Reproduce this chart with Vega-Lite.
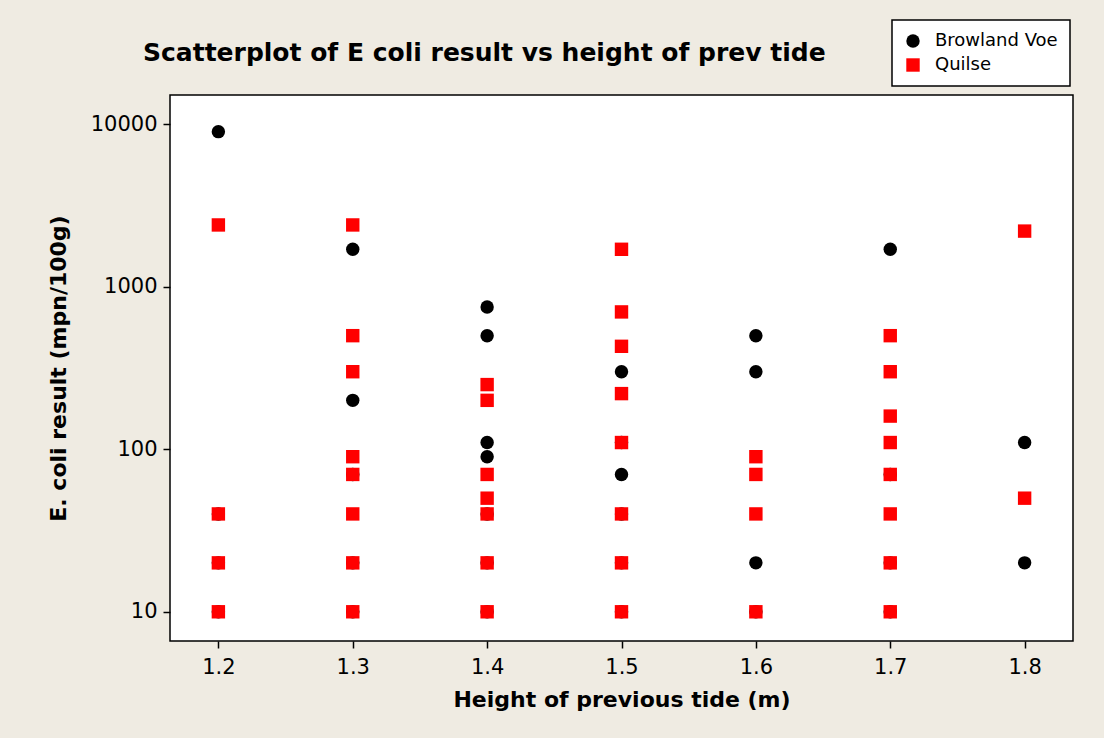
{
  "$schema": "https://vega.github.io/schema/vega-lite/v6.json",
  "width": 903,
  "height": 546,
  "autosize": "none",
  "padding": {"left": 170, "top": 95, "right": 31, "bottom": 97},
  "background": "#EFEBE2",
  "title": {
    "text": "Scatterplot of E coli result vs height of prev tide",
    "anchor": "start",
    "frame": "group",
    "dx": -27,
    "offset": 0,
    "dy": 47,
    "font": "DejaVu Sans",
    "fontSize": 25,
    "fontWeight": "bold",
    "color": "black"
  },
  "data": {
    "values": [
      {"height": 1.2, "ecoli": 9000, "site": "Browland Voe"},
      {"height": 1.2, "ecoli": 40, "site": "Browland Voe"},
      {"height": 1.2, "ecoli": 20, "site": "Browland Voe"},
      {"height": 1.2, "ecoli": 10, "site": "Browland Voe"},
      {"height": 1.3, "ecoli": 1700, "site": "Browland Voe"},
      {"height": 1.3, "ecoli": 200, "site": "Browland Voe"},
      {"height": 1.3, "ecoli": 70, "site": "Browland Voe"},
      {"height": 1.3, "ecoli": 20, "site": "Browland Voe"},
      {"height": 1.3, "ecoli": 10, "site": "Browland Voe"},
      {"height": 1.4, "ecoli": 750, "site": "Browland Voe"},
      {"height": 1.4, "ecoli": 500, "site": "Browland Voe"},
      {"height": 1.4, "ecoli": 110, "site": "Browland Voe"},
      {"height": 1.4, "ecoli": 90, "site": "Browland Voe"},
      {"height": 1.4, "ecoli": 40, "site": "Browland Voe"},
      {"height": 1.4, "ecoli": 20, "site": "Browland Voe"},
      {"height": 1.4, "ecoli": 10, "site": "Browland Voe"},
      {"height": 1.5, "ecoli": 300, "site": "Browland Voe"},
      {"height": 1.5, "ecoli": 110, "site": "Browland Voe"},
      {"height": 1.5, "ecoli": 70, "site": "Browland Voe"},
      {"height": 1.5, "ecoli": 40, "site": "Browland Voe"},
      {"height": 1.5, "ecoli": 20, "site": "Browland Voe"},
      {"height": 1.5, "ecoli": 10, "site": "Browland Voe"},
      {"height": 1.6, "ecoli": 500, "site": "Browland Voe"},
      {"height": 1.6, "ecoli": 300, "site": "Browland Voe"},
      {"height": 1.6, "ecoli": 20, "site": "Browland Voe"},
      {"height": 1.6, "ecoli": 10, "site": "Browland Voe"},
      {"height": 1.7, "ecoli": 1700, "site": "Browland Voe"},
      {"height": 1.7, "ecoli": 70, "site": "Browland Voe"},
      {"height": 1.7, "ecoli": 20, "site": "Browland Voe"},
      {"height": 1.7, "ecoli": 10, "site": "Browland Voe"},
      {"height": 1.8, "ecoli": 110, "site": "Browland Voe"},
      {"height": 1.8, "ecoli": 20, "site": "Browland Voe"},
      {"height": 1.2, "ecoli": 2400, "site": "Quilse"},
      {"height": 1.2, "ecoli": 40, "site": "Quilse"},
      {"height": 1.2, "ecoli": 20, "site": "Quilse"},
      {"height": 1.2, "ecoli": 10, "site": "Quilse"},
      {"height": 1.3, "ecoli": 2400, "site": "Quilse"},
      {"height": 1.3, "ecoli": 500, "site": "Quilse"},
      {"height": 1.3, "ecoli": 300, "site": "Quilse"},
      {"height": 1.3, "ecoli": 90, "site": "Quilse"},
      {"height": 1.3, "ecoli": 70, "site": "Quilse"},
      {"height": 1.3, "ecoli": 40, "site": "Quilse"},
      {"height": 1.3, "ecoli": 20, "site": "Quilse"},
      {"height": 1.3, "ecoli": 10, "site": "Quilse"},
      {"height": 1.4, "ecoli": 250, "site": "Quilse"},
      {"height": 1.4, "ecoli": 200, "site": "Quilse"},
      {"height": 1.4, "ecoli": 70, "site": "Quilse"},
      {"height": 1.4, "ecoli": 50, "site": "Quilse"},
      {"height": 1.4, "ecoli": 40, "site": "Quilse"},
      {"height": 1.4, "ecoli": 20, "site": "Quilse"},
      {"height": 1.4, "ecoli": 10, "site": "Quilse"},
      {"height": 1.5, "ecoli": 1700, "site": "Quilse"},
      {"height": 1.5, "ecoli": 700, "site": "Quilse"},
      {"height": 1.5, "ecoli": 430, "site": "Quilse"},
      {"height": 1.5, "ecoli": 220, "site": "Quilse"},
      {"height": 1.5, "ecoli": 110, "site": "Quilse"},
      {"height": 1.5, "ecoli": 40, "site": "Quilse"},
      {"height": 1.5, "ecoli": 20, "site": "Quilse"},
      {"height": 1.5, "ecoli": 10, "site": "Quilse"},
      {"height": 1.6, "ecoli": 90, "site": "Quilse"},
      {"height": 1.6, "ecoli": 70, "site": "Quilse"},
      {"height": 1.6, "ecoli": 40, "site": "Quilse"},
      {"height": 1.6, "ecoli": 10, "site": "Quilse"},
      {"height": 1.7, "ecoli": 500, "site": "Quilse"},
      {"height": 1.7, "ecoli": 300, "site": "Quilse"},
      {"height": 1.7, "ecoli": 160, "site": "Quilse"},
      {"height": 1.7, "ecoli": 110, "site": "Quilse"},
      {"height": 1.7, "ecoli": 70, "site": "Quilse"},
      {"height": 1.7, "ecoli": 40, "site": "Quilse"},
      {"height": 1.7, "ecoli": 20, "site": "Quilse"},
      {"height": 1.7, "ecoli": 10, "site": "Quilse"},
      {"height": 1.8, "ecoli": 2200, "site": "Quilse"},
      {"height": 1.8, "ecoli": 50, "site": "Quilse"}
    ]
  },
  "mark": {"type": "point", "filled": true, "size": 180, "opacity": 1},
  "encoding": {
    "x": {
      "field": "height",
      "type": "quantitative",
      "scale": {"domain": [1.164, 1.836], "nice": false, "zero": false},
      "axis": {
        "values": [1.2, 1.3, 1.4, 1.5, 1.6, 1.7, 1.8],
        "format": ".1f",
        "title": "Height of previous tide (m)",
        "labelPadding": 8,
        "titlePadding": 12
      }
    },
    "y": {
      "field": "ecoli",
      "type": "quantitative",
      "scale": {"type": "log", "domain": [6.61, 15130], "nice": false},
      "axis": {
        "values": [10, 100, 1000, 10000],
        "format": "d",
        "title": "E. coli result (mpn/100g)",
        "labelPadding": 6,
        "titlePadding": 20
      }
    },
    "color": {
      "field": "site",
      "type": "nominal",
      "scale": {"domain": ["Browland Voe", "Quilse"], "range": ["#000000", "#FF0000"]},
      "legend": {"title": null}
    },
    "shape": {
      "field": "site",
      "type": "nominal",
      "scale": {"domain": ["Browland Voe", "Quilse"], "range": ["circle", "square"]},
      "legend": {"title": null}
    }
  },
  "config": {
    "view": {"stroke": "#000000", "strokeWidth": 1.5, "fill": "#FFFFFF"},
    "axis": {
      "grid": false,
      "domain": false,
      "ticks": true,
      "tickColor": "#000000",
      "tickWidth": 1.5,
      "tickSize": 7,
      "labelFont": "DejaVu Sans",
      "labelFontSize": 21,
      "labelColor": "#000000",
      "titleFont": "DejaVu Sans",
      "titleFontSize": 22,
      "titleFontWeight": "bold",
      "titleColor": "#000000"
    },
    "legend": {
      "orient": "none",
      "legendX": 722,
      "legendY": -75,
      "strokeColor": "#000000",
      "strokeWidth": 1.5,
      "fillColor": "#FFFFFF",
      "padding": 12,
      "symbolSize": 180,
      "symbolType": "circle",
      "labelFont": "DejaVu Sans",
      "labelFontSize": 18,
      "labelColor": "#000000",
      "labelOffset": 13,
      "rowPadding": 6
    }
  }
}
